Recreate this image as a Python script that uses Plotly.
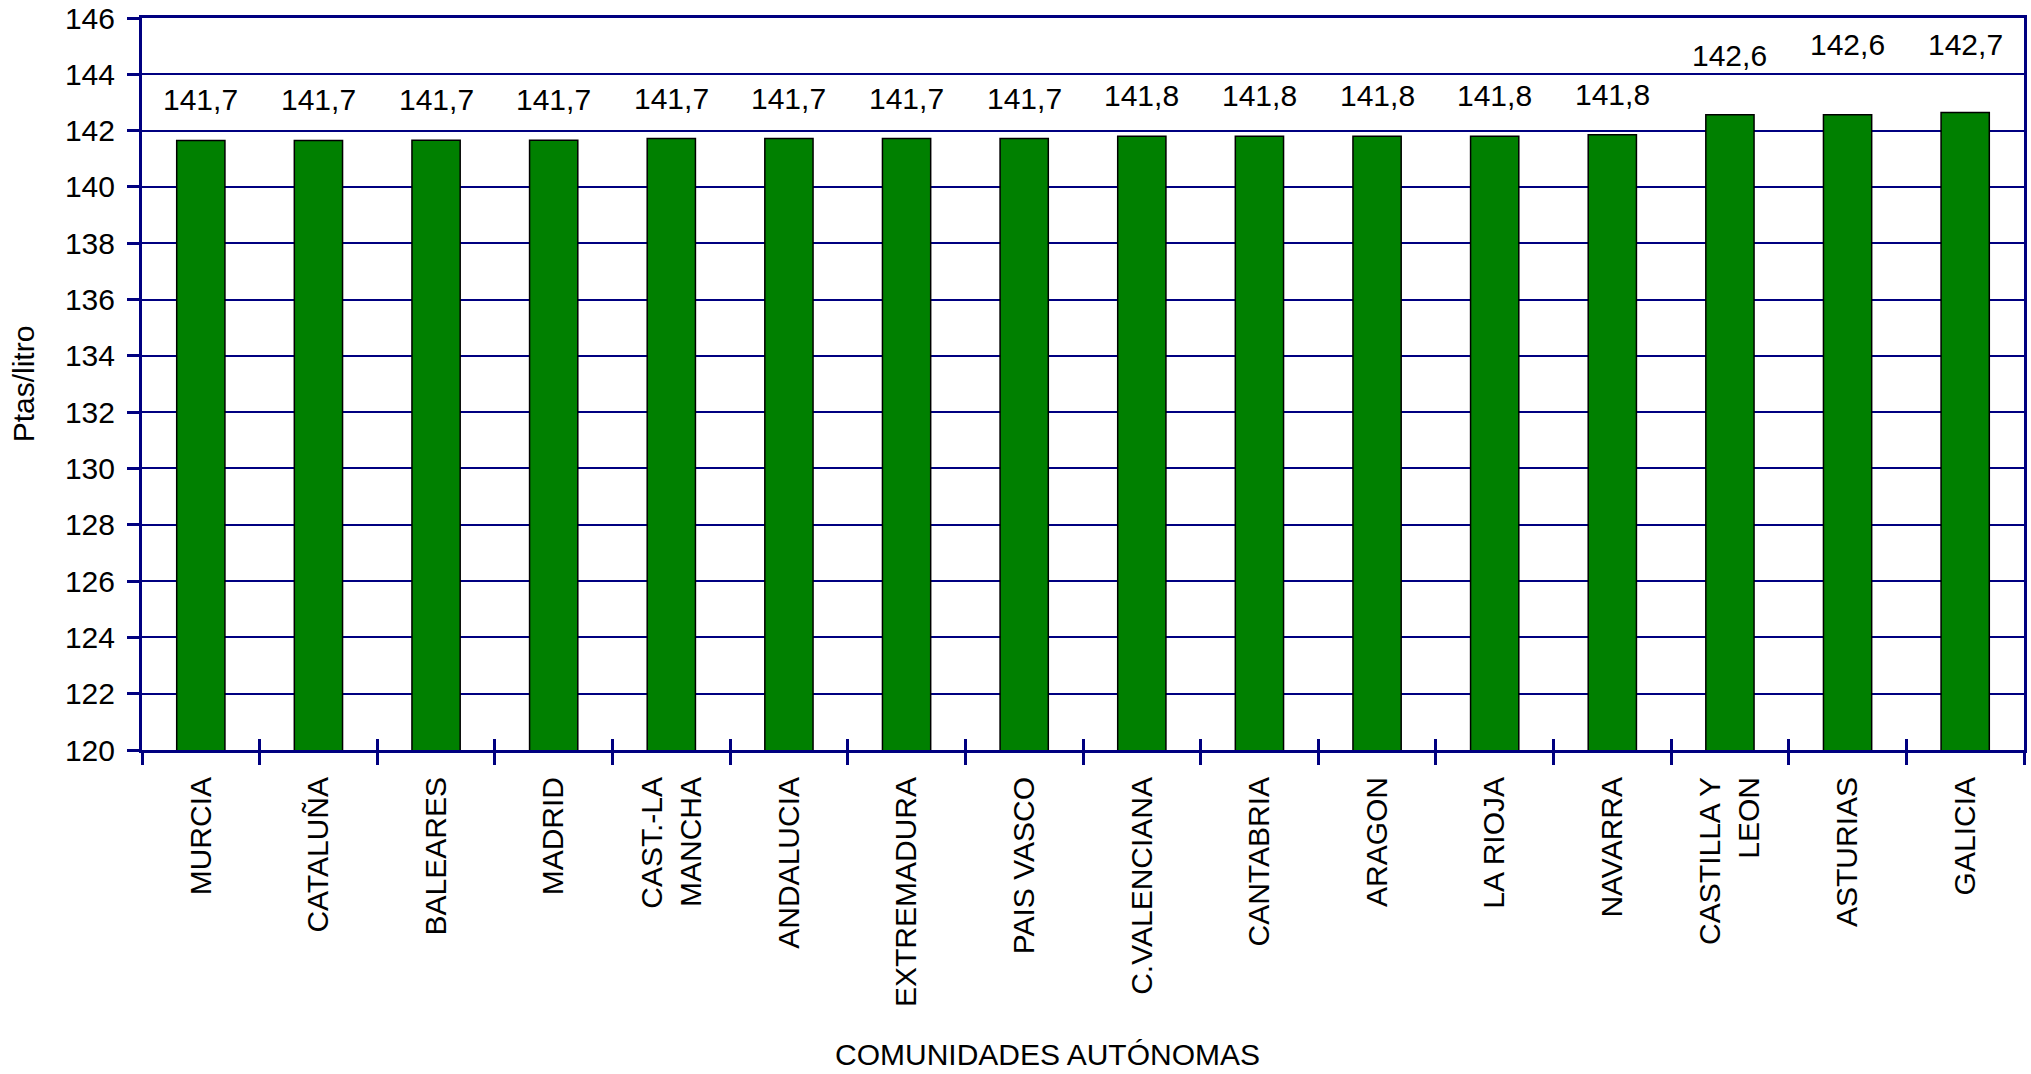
import plotly.graph_objects as go

# Precio medio gasolina por comunidad autónoma
regiones = ["MURCIA", "CATALUÑA", "BALEARES", "MADRID", "CAST.-LA<br>MANCHA", "ANDALUCIA",
            "EXTREMADURA", "PAIS VASCO", "C.VALENCIANA", "CANTABRIA", "ARAGON", "LA RIOJA",
            "NAVARRA", "CASTILLA Y<br>LEON", "ASTURIAS", "GALICIA"]
precios = [141.65, 141.65, 141.66, 141.66, 141.72, 141.72, 141.72, 141.72,
           141.80, 141.80, 141.80, 141.80, 141.85, 142.56, 142.56, 142.64]
etiquetas = ["141,7", "141,7", "141,7", "141,7", "141,7", "141,7", "141,7", "141,7",
             "141,8", "141,8", "141,8", "141,8", "141,8", "142,6", "142,6", "142,7"]
y_ticks = list(range(120, 147, 2))

# the original chart lifts the last three labels clear of the 144 gridline
label_lift = [22] * 13 + [41, 52, 50]

NAVY = "#000080"
FONT = "Arial, Liberation Sans, sans-serif"

fig = go.Figure()
fig.add_trace(go.Bar(
    x=regiones, y=precios,
    marker=dict(color="#008000", line=dict(color="black", width=1.5)),
    showlegend=False,
))
# ghost trace to get the inner half of the boundary ticks
fig.add_trace(go.Bar(x=regiones, y=precios, xaxis="x2", opacity=0,
                     hoverinfo="skip", showlegend=False))

# data labels a bit above each bar
for r, v, t, s in zip(regiones, precios, etiquetas, label_lift):
    fig.add_annotation(x=r, y=v, text=t, showarrow=False, yanchor="bottom",
                       yshift=s, font=dict(size=30, color="black"))

fig.add_annotation(
    text="COMUNIDADES AUTÓNOMAS", xref="paper", yref="paper",
    x=0.481, y=-0.416, xanchor="center", yanchor="middle",
    showarrow=False, font=dict(size=30, color="black"),
)

fig.update_layout(
    width=2031, height=1074,
    margin=dict(l=142, r=7, t=18, b=324),
    paper_bgcolor="white", plot_bgcolor="white",
    font=dict(family=FONT, size=30, color="black"),
    bargap=0.59,
    xaxis=dict(
        type="category", range=[-0.5, 15.5], automargin=False,
        showline=True, linecolor=NAVY, linewidth=3, mirror=True,
        ticks="outside", tickson="boundaries", ticklen=12, tickwidth=3, tickcolor=NAVY,
        tickangle=-90, ticklabelstandoff=12,
        tickfont=dict(size=30, color="black"),
        showgrid=False,
    ),
    xaxis2=dict(
        type="category", range=[-0.5, 15.5], overlaying="x", anchor="y", side="bottom",
        ticks="inside", tickson="boundaries", ticklen=11, tickwidth=3, tickcolor=NAVY,
        showticklabels=False, showgrid=False, showline=False, automargin=False,
    ),
    yaxis=dict(
        range=[120, 146], tickvals=y_ticks, automargin=False,
        showline=True, linecolor=NAVY, linewidth=3, mirror=True,
        ticks="outside", ticklen=12, tickwidth=3, tickcolor=NAVY,
        ticklabelstandoff=6, ticklabeloverflow="allow",
        showgrid=True, gridcolor=NAVY, gridwidth=1.5,
        tickfont=dict(size=30, color="black"),
        title=dict(text="Ptas/litro", font=dict(size=30), standoff=22),
        zeroline=False,
    ),
)

# drop the default 8px body margin so the figure fills the window exactly
fig.write_html("out.html", config={"displayModeBar": False},
               post_script="document.body.style.margin='0';")
